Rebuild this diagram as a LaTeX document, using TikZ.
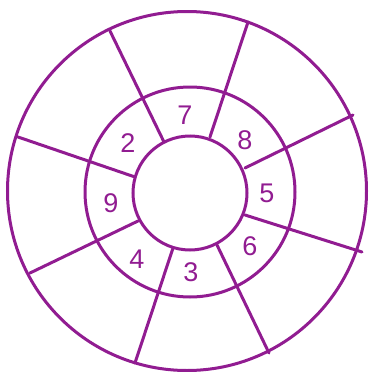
\documentclass[tikz,border=0pt]{standalone}
\usepackage{fontspec}
\setmainfont{Liberation Sans}
\definecolor{pur}{RGB}{145,28,145}
\begin{document}
\begin{tikzpicture}[x=1pt,y=-1pt,
  ring/.style={draw=pur,line width=3pt},
  spoke/.style={draw=pur,line width=3pt,line cap=round},
  num/.style={text=pur,font=\fontsize{27}{27}\selectfont,inner sep=0pt}]
\useasboundingbox (0,0) rectangle (371,372);
\draw[ring] (187,191) circle (179.5);
\draw[ring] (190,192) circle (105);
\draw[ring] (190,193) circle (57);
% spokes
\coordinate (i1) at (164,142); \coordinate (o1) at (110,31);
\coordinate (i2) at (210,137); \coordinate (o2) at (248,22);
\coordinate (i3) at (245,168); \coordinate (o3) at (353,115);
\coordinate (i4) at (245,215); \coordinate (o4) at (362,252);
\coordinate (i5) at (217,245); \coordinate (o5) at (269,353);
\coordinate (i6) at (173,248); \coordinate (o6) at (135,363);
\coordinate (i7) at (138,221); \coordinate (o7) at (30,273);
\coordinate (i8) at (135,177); \coordinate (o8) at (18,137);
\foreach \k in {1,...,8} \draw[spoke] (i\k) -- (o\k);
\node[num] (n7) at (185,115) {7};
\node[num] (n8) at (245,140) {8};
\node[num] (n5) at (267,193) {5};
\node[num] (n6) at (250,246) {6};
\node[num] (n3) at (191,272) {3};
\node[num] (n4) at (137,259) {4};
\node[num] (n9) at (111,203) {9};
\node[num] (n2) at (128,143) {2};
\end{tikzpicture}
\end{document}
